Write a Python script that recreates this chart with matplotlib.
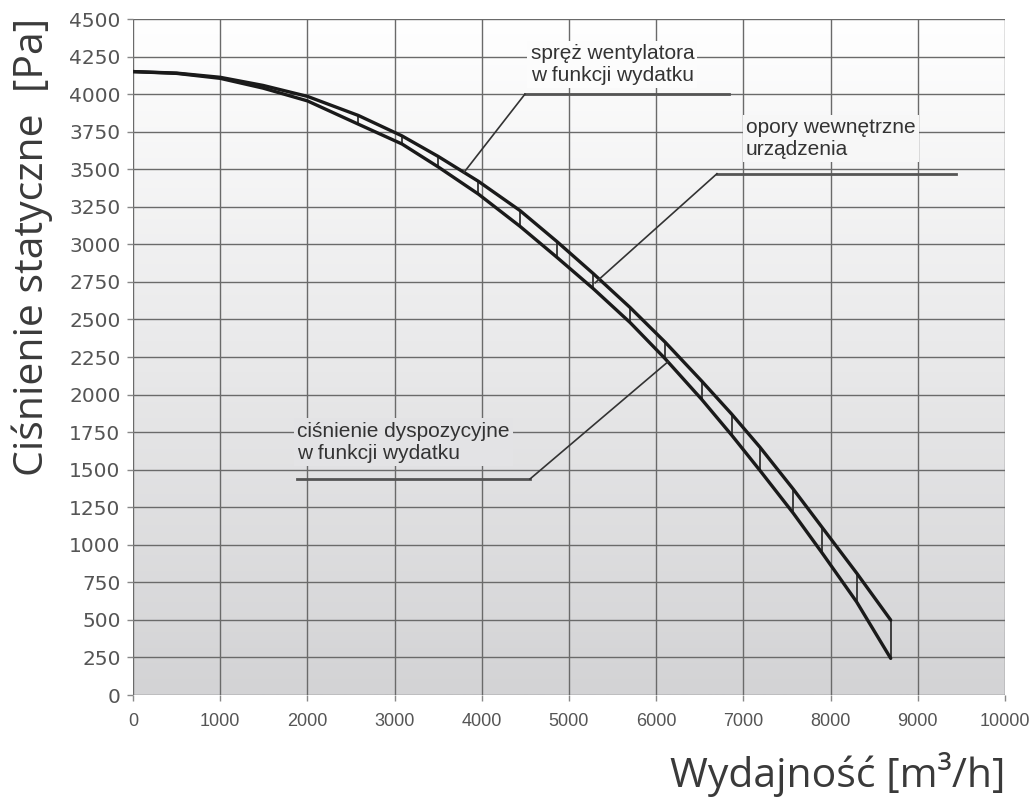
import numpy as np
import matplotlib
matplotlib.use('Agg')
import matplotlib.pyplot as plt
from matplotlib.colors import LinearSegmentedColormap

wydatek = [0, 500, 1000, 1491, 2000, 2584, 3085, 3501, 3960, 4438, 4859,
           5279, 5700, 6101, 6522, 6866, 7190, 7573, 7898, 8299, 8690]
sprez = [4150, 4140, 4112, 4058, 3985, 3858, 3722, 3585, 3420, 3225, 3020,
         2805, 2580, 2350, 2090, 1870, 1650, 1370, 1120, 812, 499]
dyspozycyjne = [4150, 4138, 4105, 4040, 3955, 3800, 3668, 3515, 3335, 3120, 2915,
                2705, 2480, 2240, 1968, 1730, 1495, 1210, 950, 620, 244]
# pionowe kreski (opory wewnetrzne) od tego punktu
start_kresek = 5

x_ticks = list(range(0, 10001, 1000))
y_ticks = list(range(0, 4501, 250))

fig = plt.figure(figsize=(10.36, 8.02), dpi=100)
ax = fig.add_axes([0.1284, 0.1334, 0.970 - 0.1284, 0.9763 - 0.1334])

# tlo - gradient
cmap = LinearSegmentedColormap.from_list('tlo', ['#ffffff', '#d3d3d5'])
ax.imshow(np.linspace(0, 1, 256).reshape(-1, 1), cmap=cmap, aspect='auto',
          extent=[0, 10000, 0, 4500], origin='upper', zorder=0)

def kolor_tla(y):
    return cmap((4500 - y) / 4500)

ax.set_xlim(0, 10000)
ax.set_ylim(0, 4500)
ax.set_xticks(x_ticks)
ax.set_yticks(y_ticks)
ax.grid(True, color='#6a6a6a', lw=1.0)
ax.set_axisbelow(True)
for s in ax.spines.values():
    s.set_visible(False)
ax.tick_params(axis='both', color='#888888', length=4, width=1)
ax.tick_params(axis='y', pad=5, labelsize=14.5, labelcolor='#555555')
ax.tick_params(axis='x', pad=9, labelsize=13, labelcolor='#555555')
for lab in ax.get_xticklabels():
    lab.set_family('Liberation Sans')

# krzywe
ax.plot(wydatek, sprez, color='#1a1a1a', lw=2.4, zorder=4, solid_capstyle='round')
ax.plot(wydatek, dyspozycyjne, color='#1a1a1a', lw=2.4, zorder=4, solid_capstyle='round')
ax.vlines(wydatek[start_kresek:], dyspozycyjne[start_kresek:], sprez[start_kresek:],
          color='#333333', lw=1.3, zorder=3)

fam = ['Liberation Sans Narrow', 'Liberation Sans']

def opis(tekst, tx, ty, x1, x2, yl, xs, xk, yk):
    ax.text(tx, ty, tekst, ha='left', va='top', fontsize=15, color='#333333',
            family=fam, linespacing=1.2, zorder=5,
            bbox=dict(boxstyle='square,pad=0.15', fc=kolor_tla(ty - 150), ec='none'))
    ax.plot([x1, x2], [yl, yl], color='#555555', lw=2.0, zorder=5)
    ax.plot([xs, xk], [yl, yk], color='#333333', lw=1.2, zorder=5)

xk = 3796
opis('spręż wentylatora\nw funkcji wydatku', 4560, 4335, 4495, 6835, 4000,
     4495, xk, np.interp(xk, wydatek, sprez))
xk = 5300
opis('opory wewnętrzne\nurządzenia', 7030, 3840, 6697, 9438, 3470,
     6697, xk, (np.interp(xk, wydatek, sprez) + np.interp(xk, wydatek, dyspozycyjne)) / 2)
xk = 6135
opis('ciśnienie dyspozycyjne\nw funkcji wydatku', 1881, 1820, 1881, 4553, 1438,
     4553, xk, np.interp(xk, wydatek, dyspozycyjne))

fig.text(0.031, 0.692, 'Ciśnienie statyczne  [Pa]', rotation=90, ha='center', va='center',
         fontsize=29.5, color='#3a3a3a', family='Open Sans')
fig.text(0.970, 0.034, 'Wydajność [m³/h]', ha='right', va='center',
         fontsize=29.5, color='#3a3a3a', family='Open Sans')

fig.savefig('out.png', dpi=100)
